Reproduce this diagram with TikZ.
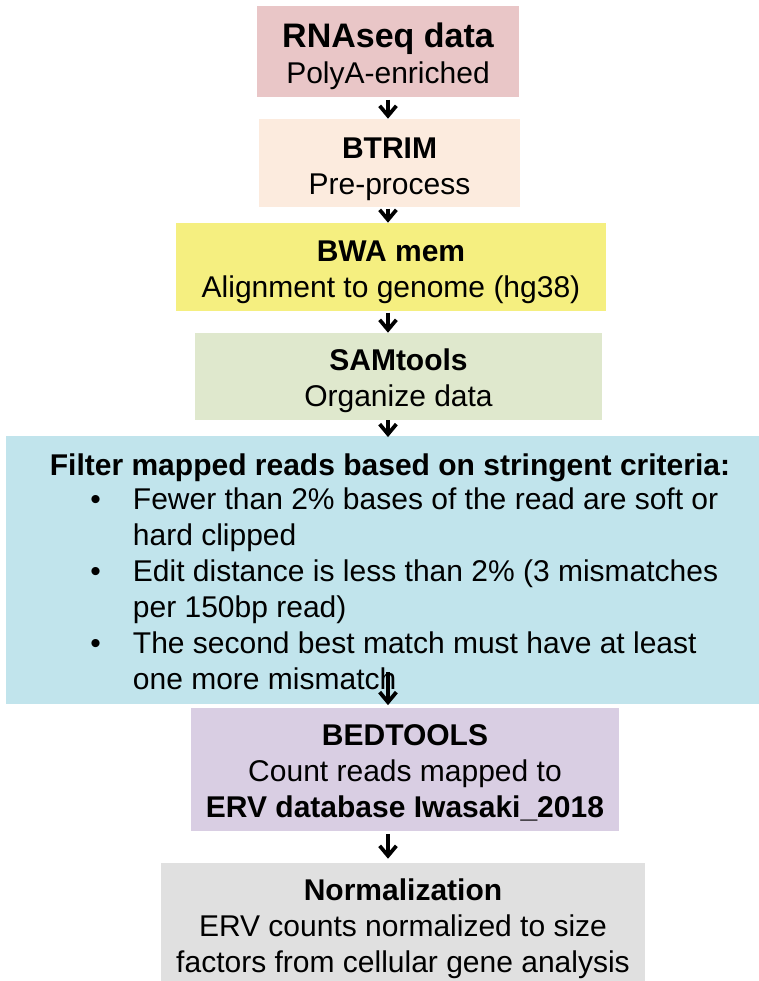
\documentclass[tikz,border=0pt]{standalone}
\usepackage{fontspec}
\setmainfont{Liberation Sans}
\usetikzlibrary{arrows.meta}

% fill colours of the pipeline stages
\definecolor{rnapink}{HTML}{E9C6C7}
\definecolor{trimpeach}{HTML}{FCEBDE}
\definecolor{bwayellow}{HTML}{F5EF80}
\definecolor{samgreen}{HTML}{DFE8CD}
\definecolor{filterblue}{HTML}{C1E4EC}
\definecolor{bedlilac}{HTML}{D9CEE3}
\definecolor{normgray}{HTML}{E0E0E0}

% invisible strut: pushes the first line of a box down
\newcommand{\topstrut}[1]{\rule{0pt}{#1}}

\begin{document}
\begin{tikzpicture}[x=0.75pt, y=-0.75pt,
	stage/.style={inner sep=0pt, align=center, font=\fontsize{22.5}{27}\selectfont},
	flow/.style={line width=2.8pt, -{Straight Barb[length=7.5pt,width=12.5pt]}}]

	\useasboundingbox (0,0) rectangle (759,981);

	% --- ETAPES DU PIPELINE ---
	\node[stage, fill=rnapink, minimum width=262*0.75pt, minimum height=91*0.75pt] (rnaseq) at (388,51.5)
		{\topstrut{26pt}{\fontsize{25.5}{27}\selectfont\bfseries RNAseq data}\\PolyA-enriched};
	\node[stage, fill=trimpeach, minimum width=261*0.75pt, minimum height=88*0.75pt] (btrim) at (389.5,163)
		{\topstrut{24.5pt}\textbf{BTRIM}\\Pre-process};
	\node[stage, fill=bwayellow, minimum width=430*0.75pt, minimum height=88*0.75pt] (bwa) at (391,267)
		{\topstrut{23.5pt}\textbf{BWA mem}\\Alignment to genome (hg38)};
	\node[stage, fill=samgreen, minimum width=407*0.75pt, minimum height=87*0.75pt] (samtools) at (398.5,376.5)
		{\topstrut{22.5pt}\textbf{SAMtools}\\Organize data};

	% Filtre : titre + criteres
	\node[stage, fill=filterblue, minimum width=753*0.75pt, minimum height=268*0.75pt] (filter) at (382.5,570) {};
	\node[stage, font=\fontsize{22.5}{27}\selectfont\bfseries] (filterhead) at (390,467.5)
		{Filter mapped reads based on stringent criteria:};
	\node[stage, align=left, anchor=west] (criteria) at (90,588.5)
		{\makebox[32pt][l]{\textbullet}Fewer than 2\% bases of the read are soft or\\
		\hspace*{32pt}hard clipped\\
		\makebox[32pt][l]{\textbullet}Edit distance is less than 2\% (3 mismatches\\
		\hspace*{32pt}per 150bp read)\\
		\makebox[32pt][l]{\textbullet}The second best match must have at least\\
		\hspace*{32pt}one more mismatch};

	\node[stage, fill=bedlilac, minimum width=428*0.75pt, minimum height=123*0.75pt] (bedtools) at (405,769.5)
		{\topstrut{20.5pt}\textbf{BEDTOOLS}\\Count reads mapped to\\\textbf{ERV database Iwasaki\_2018}};
	\node[stage, fill=normgray, minimum width=484*0.75pt, minimum height=118*0.75pt] (norm) at (403,922)
		{\topstrut{27pt}\textbf{Normalization}\\ERV counts normalized to size\\factors from cellular gene analysis};

	% --- FLECHES ---
	\draw[flow, shorten <=2pt, shorten >=0pt] (rnaseq.south) -- (btrim.north -| rnaseq.south);
	\draw[flow, shorten <=1pt, shorten >=0pt] (btrim.south -| rnaseq.south) -- (bwa.north -| rnaseq.south);
	\draw[flow, shorten <=1pt, shorten >=0pt] (bwa.south -| rnaseq.south) -- (samtools.north -| rnaseq.south);
	\draw[flow] (samtools.south -| rnaseq.south) -- ([yshift=-1pt]filter.north -| rnaseq.south);
	% petite ombre sous la fleche du filtre
	\draw[flow, draw=black, opacity=0.25, xshift=1.5pt, yshift=-1.5pt]
		([yshift=24pt]filter.south -| rnaseq.south) -- ([yshift=2pt]bedtools.north -| rnaseq.south);
	\draw[flow] ([yshift=24pt]filter.south -| rnaseq.south) -- ([yshift=2pt]bedtools.north -| rnaseq.south);
	\draw[flow, shorten <=2pt, shorten >=3pt] (bedtools.south -| rnaseq.south) -- (norm.north -| rnaseq.south);
\end{tikzpicture}
\end{document}
